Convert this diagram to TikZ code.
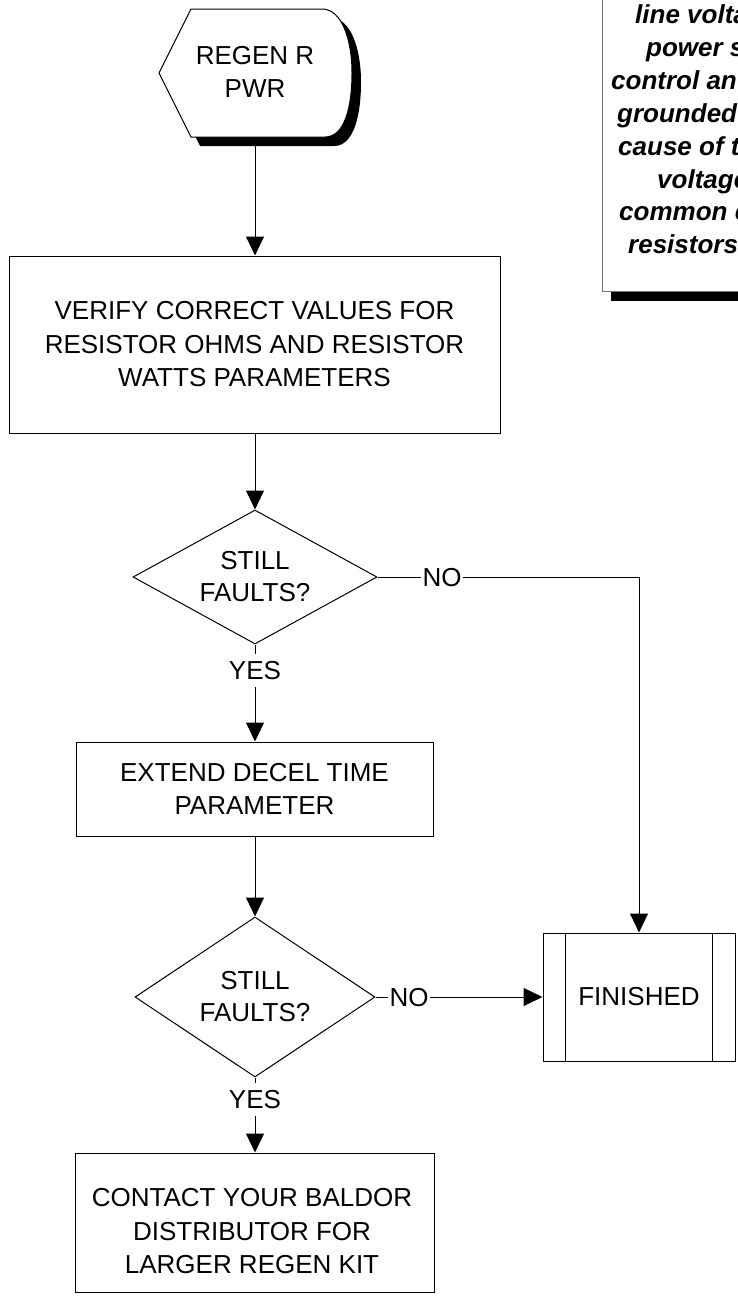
\documentclass[tikz,border=0pt]{standalone}
\usepackage{fontspec}
\setmainfont{Liberation Sans}
\usetikzlibrary{arrows.meta,shapes.geometric}

\tikzset{
  flowbox/.style={draw, line width=1pt, fill=white, inner sep=0pt},
  flowtext/.style={align=center, font=\fontsize{26}{33.5}\selectfont},
  decision/.style={diamond, aspect=1.8, draw, line width=1pt, fill=white, inner sep=0pt,
    align=center, font=\fontsize{26}{32}\selectfont},
  lbl/.style={font=\fontsize{26}{30}\selectfont, text height=18.6pt, text depth=0pt,
    inner xsep=1pt, inner ysep=7pt},
  flowarrow/.style={line width=1pt, -{Triangle[length=19pt,width=18pt]}},
  flowline/.style={line width=1pt},
  notetext/.style={anchor=base west, inner sep=0pt,
    font=\fontsize{26}{32}\selectfont\bfseries\itshape},
}

\begin{document}
\begin{tikzpicture}[x=1pt,y=-1pt]
\useasboundingbox (0,0) rectangle (738,1304);
\clip (0,0) rectangle (738,1304);

% note at the top right, cut by the page edge
\fill (611,-11) rectangle (909,301);
\draw[fill=white, draw=black!55, line width=1pt] (602,-20) rectangle (900,291);
\foreach \x/\y/\t [count=\i] in {635/23/line volta, 646/56/power s, 611/89/control an,
    617/122/grounded, 618/155/cause of t, 657/188/voltage, 619/220/common c, 628/253/resistors}
  \node[notetext] (note\i) at (\x,\y) {\t};

% start
\fill[shift={(9,9)}] (159,73) -- (191,9) -- (322,9) .. controls (342,9) and (352,40) .. (352,73)
  .. controls (352,106) and (345,137) .. (325,137) -- (191,137) -- cycle;
\draw[line width=1pt, fill=white] (159,73) -- (191,9) -- (322,9) .. controls (342,9) and (352,40) .. (352,73)
  .. controls (352,106) and (345,137) .. (325,137) -- (191,137) -- cycle;
\node[flowtext] (start) at (255,72) {REGEN R\\PWR};
\coordinate (startfoot) at (255,146);

% verify
\node[flowbox, flowtext, minimum width=491pt, minimum height=177pt] (verify) at (254.5,344.5)
  {VERIFY CORRECT VALUES FOR\\RESISTOR OHMS AND RESISTOR\\WATTS PARAMETERS};
\draw[flowarrow] (startfoot) -- (startfoot |- verify.north);

% first check
\node[decision, minimum width=244pt, minimum height=134pt] (check1) at (255,577) {STILL\\FAULTS?};
\draw[flowarrow] (verify.south -| check1.north) -- (check1.north);
\node[lbl] (yes1) at (255,670) {YES};
\node[lbl] (no1) at (442,577) {NO};
\draw[flowline] (check1.south) -- (yes1.north);
\draw[flowline] (check1.east) -- (no1.west);

% decel
\node[flowbox, flowtext, minimum width=357pt, minimum height=94pt] (decel) at (254.5,789) {EXTEND DECEL TIME\\PARAMETER};
\draw[flowarrow] (yes1.south) -- (yes1.south |- decel.north);

% second check
\node[decision, minimum width=240pt, minimum height=160pt] (check2) at (255,997) {STILL\\FAULTS?};
\draw[flowarrow] (decel.south -| check2.north) -- (check2.north);
\node[lbl] (yes2) at (255,1099) {YES};
\node[lbl] (no2) at (409,997) {NO};
\draw[flowline] (check2.south) -- (yes2.north);
\draw[flowline] (check2.east) -- (no2.west);

% finished
\node[flowbox, flowtext, minimum width=192pt, minimum height=128pt] (done) at (639,997) {FINISHED};
\draw[flowline] ([xshift=23pt]done.north west) -- ([xshift=23pt]done.south west);
\draw[flowline] ([xshift=-23pt]done.north east) -- ([xshift=-23pt]done.south east);
\draw[flowarrow] (no2.east) -- (done.west);
\draw[flowarrow] (no1.east) -- (no1.east -| done.north) -- (done.north);

% regen kit
\node[flowbox, minimum width=359pt, minimum height=139pt] (kit) at (254.5,1222.5) {};
\node[flowtext] (kittxt) at (252,1231.5) {CONTACT YOUR BALDOR\\DISTRIBUTOR FOR\\LARGER REGEN KIT};
\draw[flowarrow] (yes2.south) -- (yes2.south |- kit.north);
\end{tikzpicture}
\end{document}
